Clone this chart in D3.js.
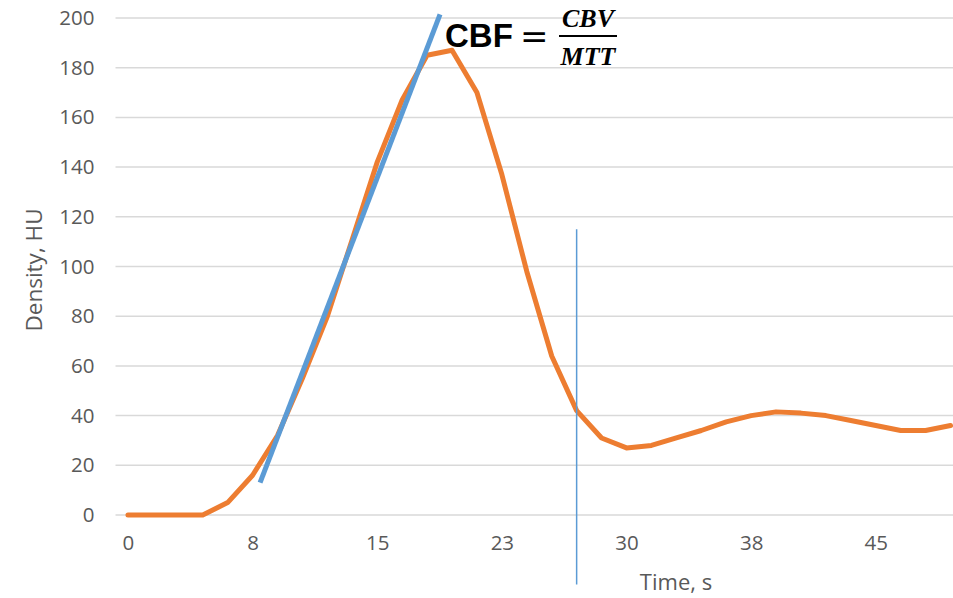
<!DOCTYPE html>
<html>
<head>
<meta charset="utf-8">
<script src="https://cdn.jsdelivr.net/npm/d3@7/dist/d3.min.js"></script>
<style>
  html, body { margin: 0; padding: 0; background: #ffffff; }
  svg { display: block; }
  text { font-family: "Open Sans", "Noto Sans", sans-serif; }
</style>
</head>
<body>
<svg id="chart" width="953" height="598"></svg>
<script>
// ---- data ----
const timeValues = d3.range(0, 34).map(i => i * 1.5);            // seconds, 1.5 s sampling
const density = [0, 0, 0, 0, 5, 16, 32, 55, 80, 111, 142, 167, 185, 187, 170, 137, 98, 64,
                 42, 31, 27, 28, 31, 34, 37.5, 40, 41.5, 41, 40, 38, 36, 34, 34, 36];
const xTickTimes = [0, 7.5, 15, 22.5, 30, 37.5, 45];
const xTickLabels = ["0", "8", "15", "23", "30", "38", "45"];
const yTicks = [0, 20, 40, 60, 80, 100, 120, 140, 160, 180, 200];
const slopeLine = [{t: 7.95, v: 13}, {t: 18.78, v: 201.5}];     // up-slope tangent
const mttMarker = [{t: 27, v: 115}, {t: 27, v: -28}];            // vertical marker
const yTitle = "Density, HU";
const xTitle = "Time, s";

// ---- layout ----
const svg = d3.select("#chart");
const plotLeft = 115.5, plotRight = 963, plotTop = 18, plotBottom = 515;

const x = d3.scaleLinear().domain([-0.75, 50.25]).range([plotLeft, plotRight]);
const y = d3.scaleLinear().domain([0, 200]).range([plotBottom, plotTop]);

// gridlines
svg.append("g")
  .selectAll("line")
  .data(yTicks)
  .join("line")
  .attr("x1", plotLeft).attr("x2", 953)
  .attr("y1", d => y(d)).attr("y2", d => y(d))
  .attr("stroke", "#d9d9d9").attr("stroke-width", 1.5);

// y axis labels
const yAxis = d3.axisLeft(y).tickValues(yTicks).tickSize(0).tickPadding(21);
const gy = svg.append("g").attr("transform", `translate(${plotLeft},0)`).call(yAxis);
gy.select(".domain").remove();
gy.selectAll("text").attr("fill", "#595959").style("font-size", "20.5px")
  .style("font-family", "'Open Sans', sans-serif");

// x axis labels
const xAxis = d3.axisBottom(x).tickValues(xTickTimes)
  .tickFormat((d, i) => xTickLabels[i]).tickSize(0).tickPadding(20);
const gx = svg.append("g").attr("transform", `translate(0,${plotBottom})`).call(xAxis);
gx.select(".domain").remove();
gx.selectAll("text").attr("fill", "#595959").style("font-size", "20.5px")
  .style("font-family", "'Open Sans', sans-serif");

// axis titles
svg.append("text")
  .attr("transform", `translate(42,${270}) rotate(-90)`)
  .attr("text-anchor", "middle")
  .attr("fill", "#595959").style("font-size", "22.5px")
  .text(yTitle);
svg.append("text")
  .attr("x", 676).attr("y", 590)
  .attr("text-anchor", "middle")
  .attr("fill", "#595959").style("font-size", "22px")
  .text(xTitle);

// density curve
const line = d3.line().x((d, i) => x(timeValues[i])).y(d => y(d));
svg.append("path")
  .datum(density)
  .attr("d", line)
  .attr("fill", "none")
  .attr("stroke", "#ed7d31")
  .attr("stroke-width", 5)
  .attr("stroke-linejoin", "round")
  .attr("stroke-linecap", "round");

// tangent line
const tl = d3.line().x(d => x(d.t)).y(d => y(d.v));
svg.append("path")
  .datum(slopeLine)
  .attr("d", tl)
  .attr("fill", "none")
  .attr("stroke", "#5b9bd5")
  .attr("stroke-width", 5);

// vertical marker
svg.append("path")
  .datum(mttMarker)
  .attr("d", tl)
  .attr("fill", "none")
  .attr("stroke", "#5b9bd5")
  .attr("stroke-width", 1.5);

// formula
const f = svg.append("g");
f.append("text")
  .attr("x", 445).attr("y", 47)
  .style("font-family", "'Liberation Sans', Arial, sans-serif")
  .style("font-weight", "bold").style("font-size", "33px")
  .attr("fill", "#000")
  .text("CBF");
f.append("text")
  .attr("x", 520).attr("y", 48)
  .style("font-family", "'DejaVu Serif', serif")
  .style("font-size", "34px")
  .attr("fill", "#000")
  .text("=");
f.append("line")
  .attr("x1", 559).attr("x2", 617).attr("y1", 36).attr("y2", 36)
  .attr("stroke", "#000").attr("stroke-width", 2.2);
f.append("text")
  .attr("x", 588).attr("y", 27)
  .attr("text-anchor", "middle")
  .style("font-family", "'Liberation Serif', serif")
  .style("font-weight", "bold").style("font-style", "italic").style("font-size", "26px")
  .attr("fill", "#000")
  .text("CBV");
f.append("text")
  .attr("x", 588).attr("y", 65)
  .attr("text-anchor", "middle")
  .style("font-family", "'Liberation Serif', serif")
  .style("font-weight", "bold").style("font-style", "italic").style("font-size", "26px")
  .attr("fill", "#000")
  .text("MTT");
</script>
</body>
</html>
